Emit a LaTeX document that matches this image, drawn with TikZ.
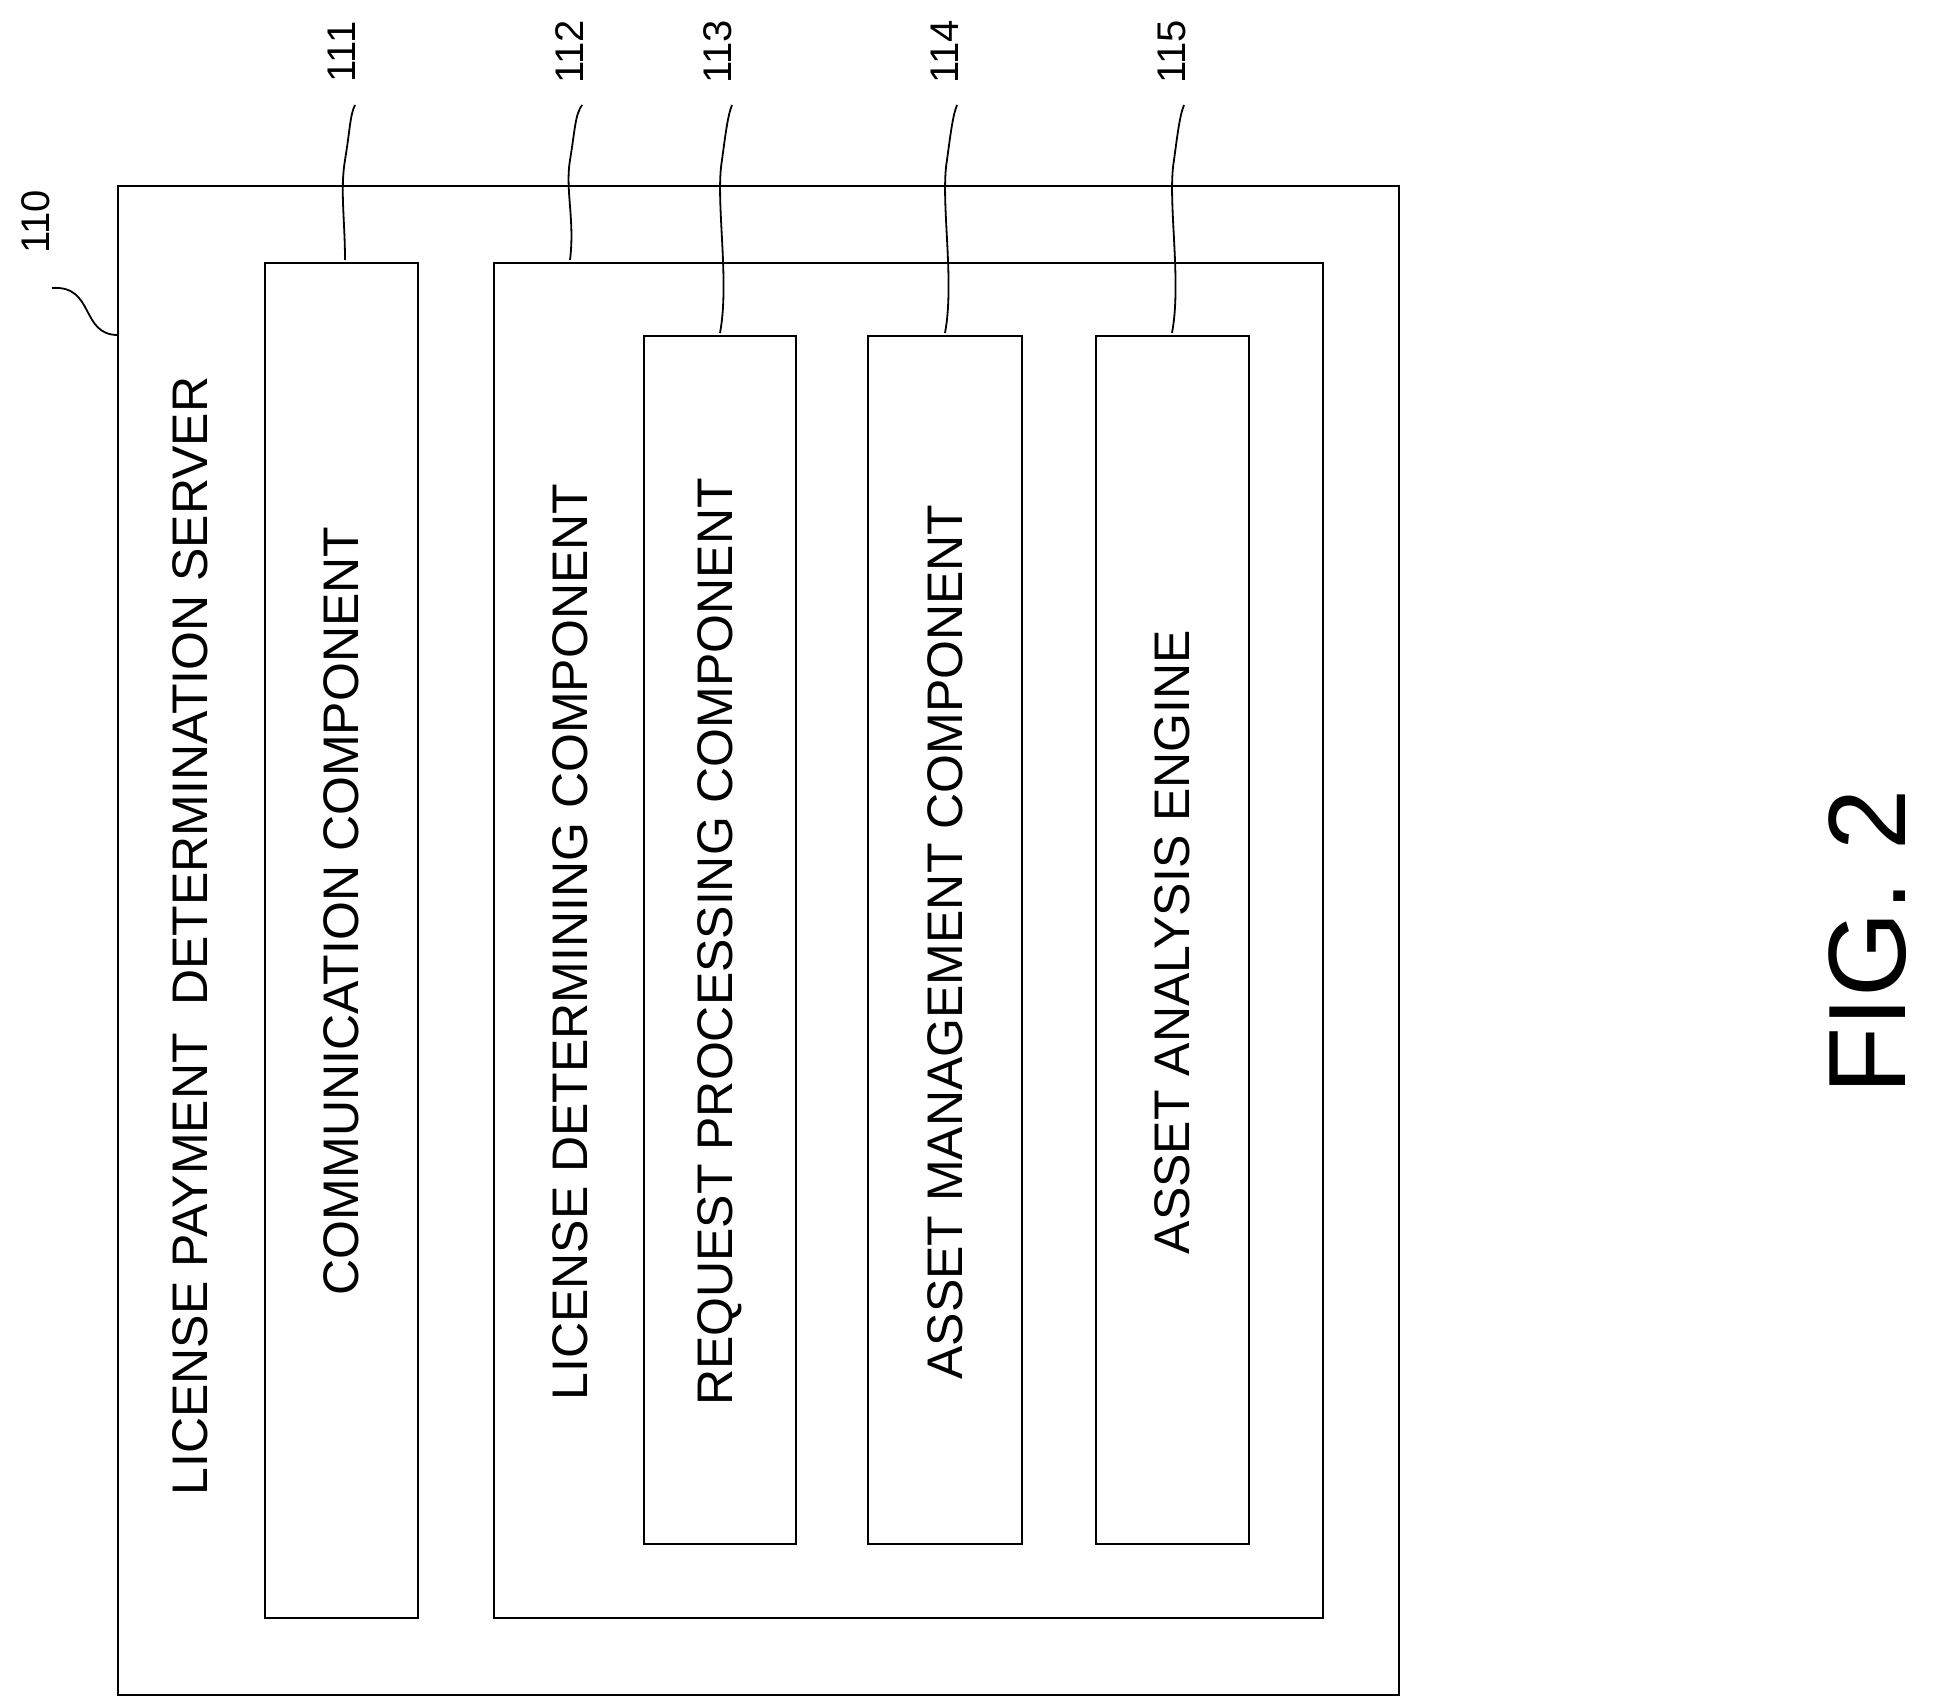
\documentclass[tikz,border=0pt]{standalone}
\usepackage{fontspec}
\setmainfont{Liberation Sans}
\begin{document}
\begin{tikzpicture}[x=1pt,y=-1pt,
    blk/.style={draw,line width=2pt},
    lbl/.style={rotate=90,font=\fontsize{50}{54}\selectfont},
    refno/.style={rotate=90,font=\fontsize{40}{44}\selectfont},
    lead/.style={line width=1.8pt}]
    \useasboundingbox (0,0) rectangle (1934,1707);
    % boxes
    \draw [blk] (118,186) rectangle (1399,1695);
    \draw [blk] (265,263) rectangle (418,1618);
    \draw [blk] (494,263) rectangle (1323,1618);
    \draw [blk] (644,336) rectangle (796,1544);
    \draw [blk] (868,336) rectangle (1022,1544);
    \draw [blk] (1096,336) rectangle (1249,1544);
    % texts
    \node [lbl] (srv) at (190,936) {LICENSE PAYMENT\ \ DETERMINATION SERVER};
    \node [lbl] (comm) at (341,911) {COMMUNICATION COMPONENT};
    \node [lbl] (ldc) at (570,942) {LICENSE DETERMINING COMPONENT};
    \node [lbl] (rpc) at (720,942) {REQUEST PROCESSING COMPONENT};
    \node [lbl] (amc) at (945,942) {ASSET MANAGEMENT COMPONENT};
    \node [lbl] (aae) at (1172,942) {ASSET ANALYSIS ENGINE};
    \node [rotate=90,font=\fontsize{110}{120}\selectfont] (fig) at (1868,942) {FIG. 2};
    % reference numerals
    \node [refno] (n110) at (36,222) {110};
    \node [refno] (n111) at (342,52) {111};
    \node [refno] (n112) at (570,52) {112};
    \node [refno] (n113) at (718,52) {113};
    \node [refno] (n114) at (945,52) {114};
    \node [refno] (n115) at (1172,52) {115};
    \draw [lead] (118,335) .. controls (80,335) and (95,285) .. (52,288);
    \draw [lead] (345,260) .. controls (345,220) and (340,190) .. (345,160) .. controls (350,130) and (350,115) .. (355,105);
    \draw [lead] (570,260) .. controls (575,220) and (565,190) .. (570,160) .. controls (575,130) and (575,115) .. (582,105);
    \draw [lead] (720,333) .. controls (730,280) and (715,200) .. (722,160) .. controls (726,130) and (728,115) .. (732,105);
    \draw [lead] (945,333) .. controls (955,280) and (940,200) .. (947,160) .. controls (951,130) and (953,115) .. (957,105);
    \draw [lead] (1172,333) .. controls (1182,280) and (1167,200) .. (1174,160) .. controls (1178,130) and (1180,115) .. (1184,105);
\end{tikzpicture}
\end{document}
